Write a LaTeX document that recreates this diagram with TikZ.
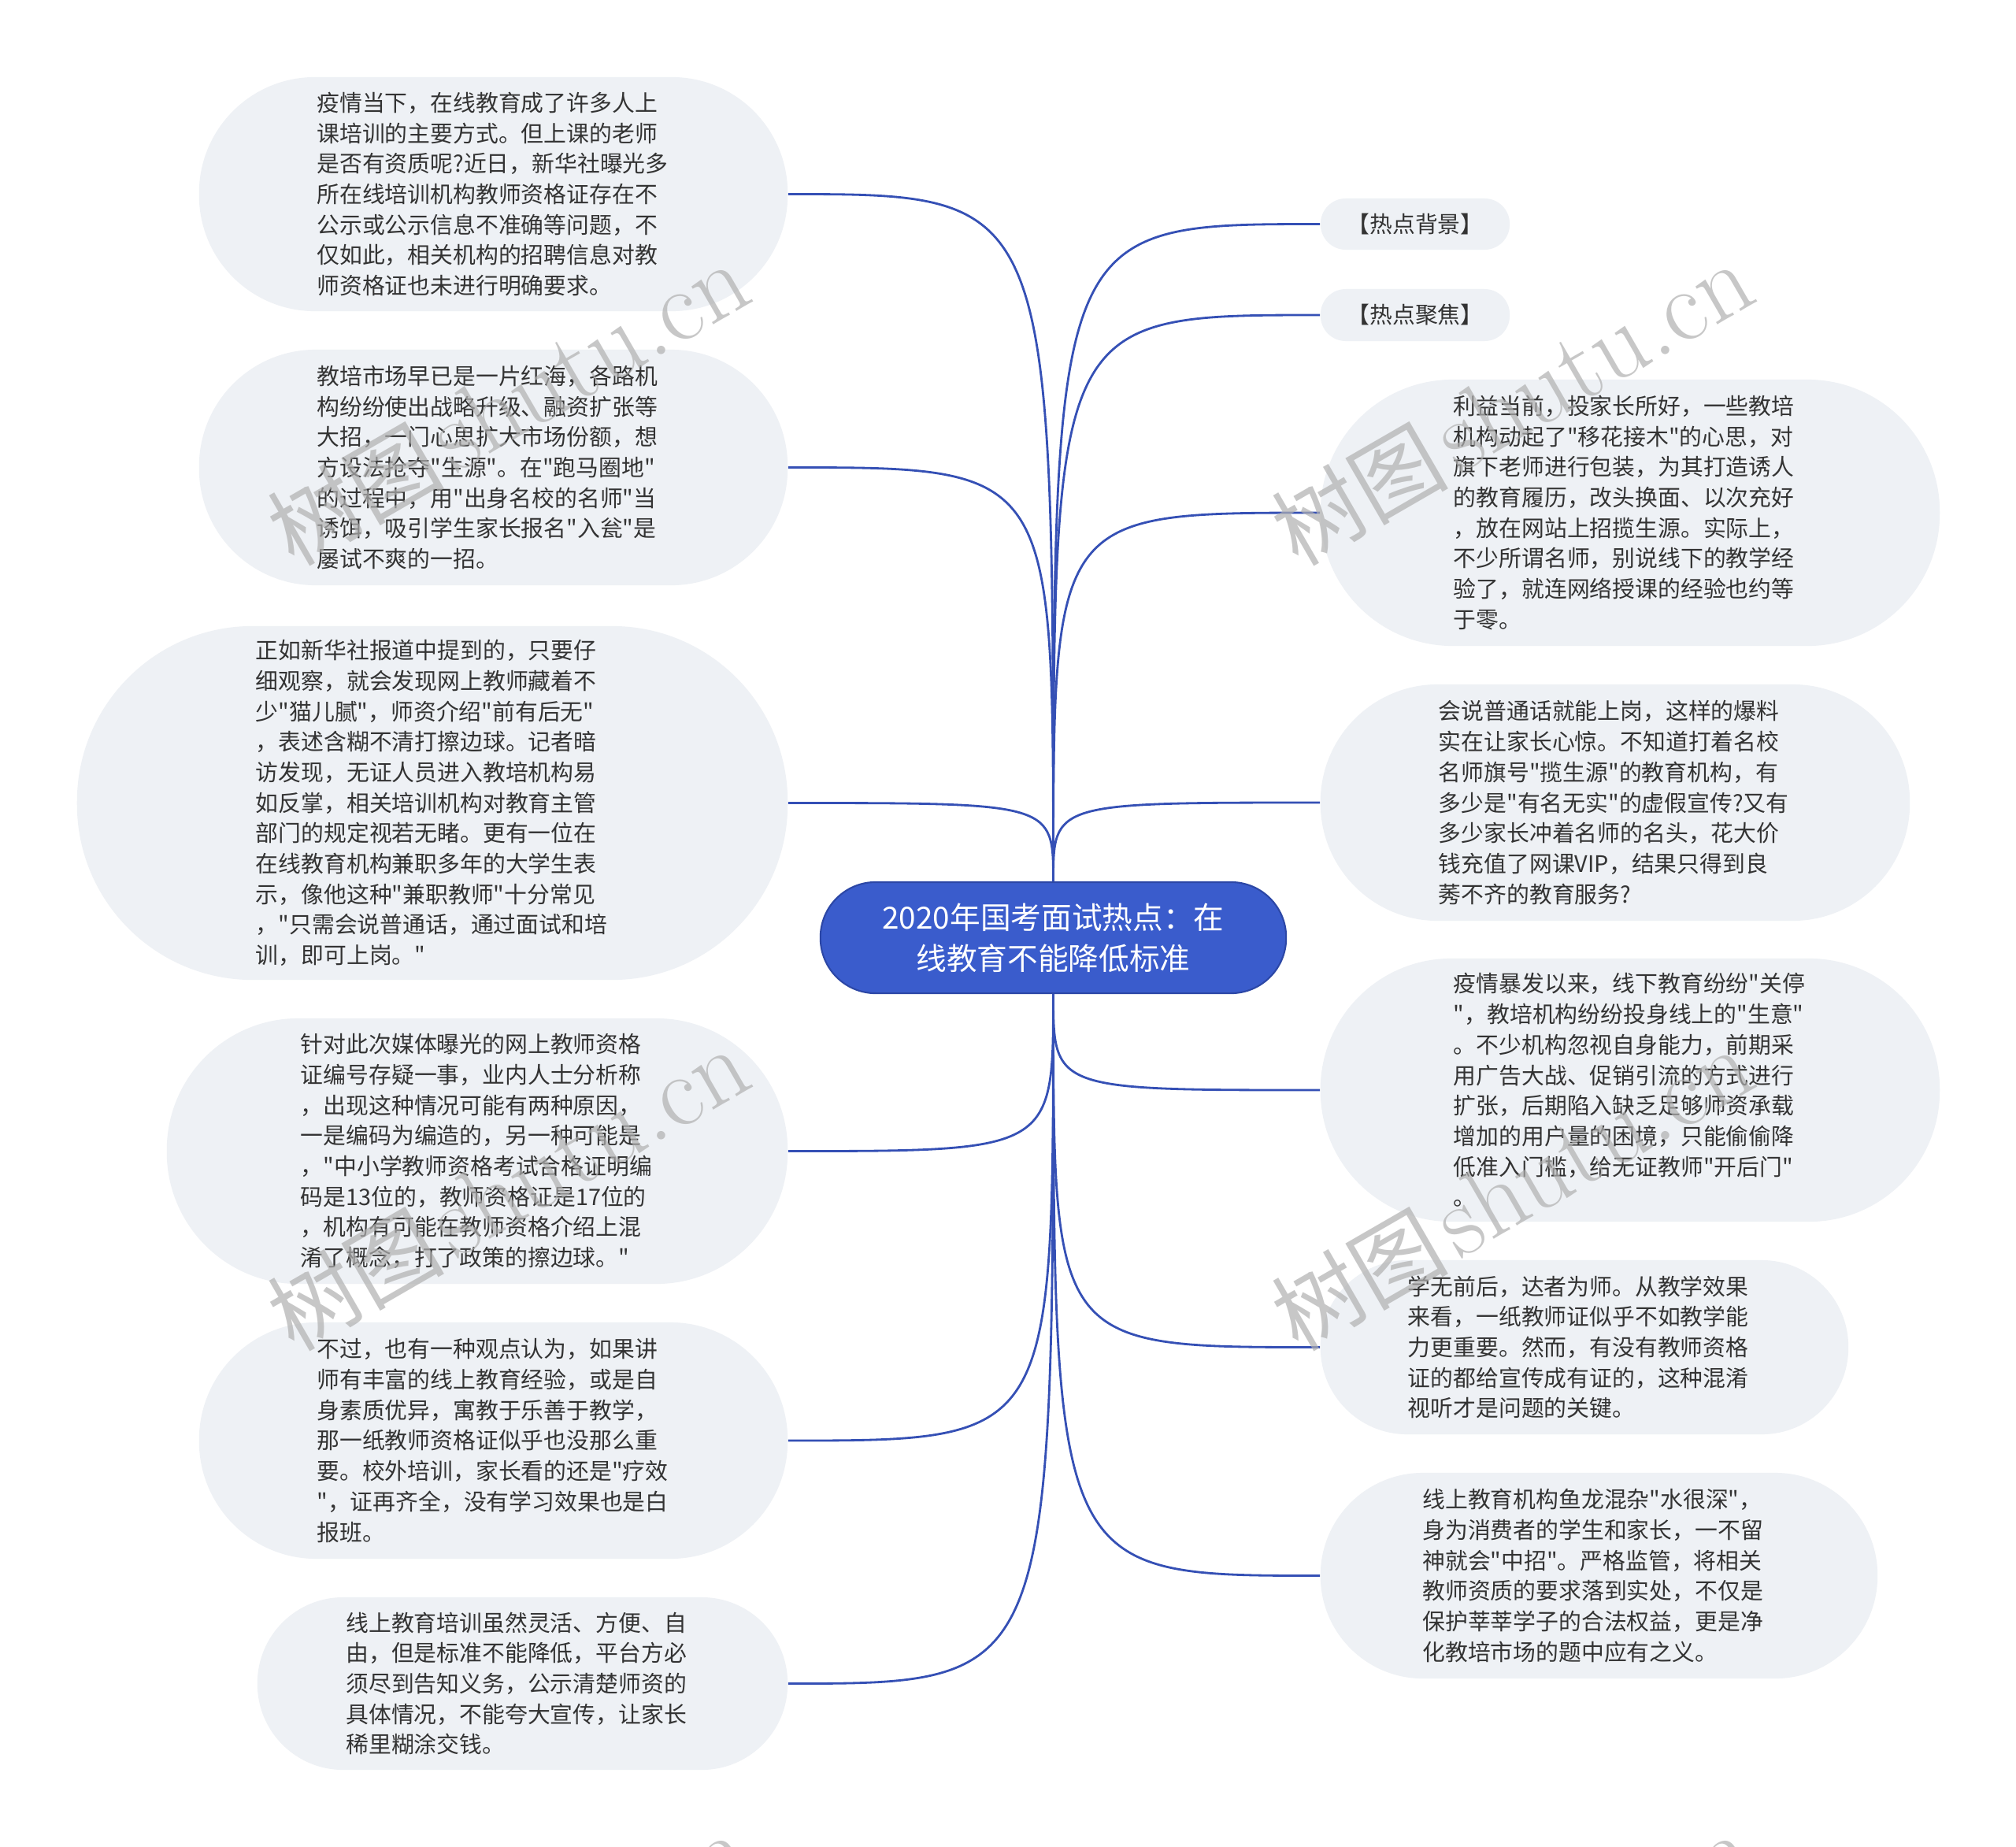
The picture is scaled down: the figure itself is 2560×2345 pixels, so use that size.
\documentclass[tikz,border=0pt]{standalone}
\usepackage{fontspec}
\newfontfamily\cjk{Noto Sans CJK SC}
\definecolor{boxfill}{HTML}{EEF1F5}
\definecolor{txt}{HTML}{333333}
\definecolor{linec}{HTML}{3550B5}
\definecolor{mainfill}{HTML}{3A5CCC}
\definecolor{mainborder}{HTML}{2C47A6}
\definecolor{wm}{HTML}{B0B0B0}
\begin{document}
\begin{tikzpicture}[x=0.01cm,y=-0.01cm,
  box/.style={draw=none, fill=boxfill, text=txt, font=\cjk\fontsize{8.2}{11}\selectfont, align=left, inner sep=0pt},
  para/.style={box, text width=4.48cm},
  mainbox/.style={draw=mainborder, line width=0.6pt, fill=mainfill, text=white, font=\cjk\fontsize{11}{14.8}\selectfont, align=center, inner sep=0pt},
  conn/.style={draw=linec, line width=0.8pt},
  wmark/.style={text=wm, text opacity=0.7, rotate=30, inner sep=0pt}]
\useasboundingbox (0,0) rectangle (2560,2345);
\clip (0,0) rectangle (2560,2345);
\fill[white] (0,0) rectangle (2560,2345);

% centre
\node[mainbox, minimum width=5.91cm, minimum height=1.41cm, rounded corners=0.70cm] (c) at (1337.5,1190.5)
 {2020年国考面试热点：在\\线教育不能降低标准};

% left nodes
\node[para, minimum width=7.47cm, minimum height=2.97cm, rounded corners=1.47cm] (l1) at (626.5,246.5)
 {疫情当下，在线教育成了许多人上\\课培训的主要方式。但上课的老师\\是否有资质呢?近日，新华社曝光多\\所在线培训机构教师资格证存在不\\公示或公示信息不准确等问题，不\\仅如此，相关机构的招聘信息对教\\师资格证也未进行明确要求。};
\node[para, minimum width=7.47cm, minimum height=2.99cm, rounded corners=1.48cm] (l2) at (626.5,593.5)
 {教培市场早已是一片红海，各路机\\构纷纷使出战略升级、融资扩张等\\大招，一门心思扩大市场份额，想\\方设法抢夺"生源"。在"跑马圈地"\\的过程中，用"出身名校的名师"当\\诱饵，吸引学生家长报名"入瓮"是\\屡试不爽的一招。};
\node[para, minimum width=9.02cm, minimum height=4.49cm, rounded corners=2.23cm] (l3) at (549,1019.5)
 {正如新华社报道中提到的，只要仔\\细观察，就会发现网上教师藏着不\\少"猫儿腻"，师资介绍"前有后无"\\，表述含糊不清打擦边球。记者暗\\访发现，无证人员进入教培机构易\\如反掌，相关培训机构对教育主管\\部门的规定视若无睹。更有一位在\\在线教育机构兼职多年的大学生表\\示，像他这种"兼职教师"十分常见\\，"只需会说普通话，通过面试和培\\训，即可上岗。"};
\node[para, minimum width=7.88cm, minimum height=3.37cm, rounded corners=1.67cm] (l4) at (606,1461.5)
 {针对此次媒体曝光的网上教师资格\\证编号存疑一事，业内人士分析称\\，出现这种情况可能有两种原因，\\一是编码为编造的，另一种可能是\\，"中小学教师资格考试合格证明编\\码是13位的，教师资格证是17位的\\，机构有可能在教师资格介绍上混\\淆了概念，打了政策的擦边球。"};
\node[para, minimum width=7.47cm, minimum height=3.00cm, rounded corners=1.49cm] (l5) at (626.5,1829)
 {不过，也有一种观点认为，如果讲\\师有丰富的线上教育经验，或是自\\身素质优异，寓教于乐善于教学，\\那一纸教师资格证似乎也没那么重\\要。校外培训，家长看的还是"疗效\\"，证再齐全，没有学习效果也是白\\报班。};
\node[para, minimum width=6.73cm, minimum height=2.19cm, rounded corners=1.09cm] (l6) at (663.5,2137.5)
 {线上教育培训虽然灵活、方便、自\\由，但是标准不能降低，平台方必\\须尽到告知义务，公示清楚师资的\\具体情况，不能夸大宣传，让家长\\稀里糊涂交钱。};

% right nodes
\node[box, minimum width=2.40cm, minimum height=0.65cm, rounded corners=0.32cm, align=center] (r1) at (1797,284.5) {【热点背景】};
\node[box, minimum width=2.40cm, minimum height=0.66cm, rounded corners=0.32cm, align=center] (r2) at (1797,400) {【热点聚焦】};
\node[para, minimum width=7.86cm, minimum height=3.38cm, rounded corners=1.68cm] (r3) at (2070,651)
 {利益当前，投家长所好，一些教培\\机构动起了"移花接木"的心思，对\\旗下老师进行包装，为其打造诱人\\的教育履历，改头换面、以次充好\\，放在网站上招揽生源。实际上，\\不少所谓名师，别说线下的教学经\\验了，就连网络授课的经验也约等\\于零。};
\node[para, minimum width=7.48cm, minimum height=3.00cm, rounded corners=1.49cm] (r4) at (2051,1019)
 {会说普通话就能上岗，这样的爆料\\实在让家长心惊。不知道打着名校\\名师旗号"揽生源"的教育机构，有\\多少是"有名无实"的虚假宣传?又有\\多少家长冲着名师的名头，花大价\\钱充值了网课VIP，结果只得到良\\莠不齐的教育服务?};
\node[para, minimum width=7.86cm, minimum height=3.34cm, rounded corners=1.66cm] (r5) at (2070,1384)
 {疫情暴发以来，线下教育纷纷"关停\\"，教培机构纷纷投身线上的"生意"\\。不少机构忽视自身能力，前期采\\用广告大战、促销引流的方式进行\\扩张，后期陷入缺乏足够师资承载\\增加的用户量的困境，只能偷偷降\\低准入门槛，给无证教师"开后门"\\。};
\node[para, minimum width=6.70cm, minimum height=2.21cm, rounded corners=1.10cm] (r6) at (2012,1710.5)
 {学无前后，达者为师。从教学效果\\来看，一纸教师证似乎不如教学能\\力更重要。然而，有没有教师资格\\证的都给宣传成有证的，这种混淆\\视听才是问题的关键。};
\node[para, minimum width=7.07cm, minimum height=2.61cm, rounded corners=1.30cm] (r7) at (2030.5,2000.5)
 {线上教育机构鱼龙混杂"水很深"，\\身为消费者的学生和家长，一不留\\神就会"中招"。严格监管，将相关\\教师资质的要求落到实处，不仅是\\保护莘莘学子的合法权益，更是净\\化教培市场的题中应有之义。};

% connectors
\foreach \n in {l1,l2,l3} {
  \draw[conn] (c.north) .. controls (c.north |- \n.east) .. (\n.east);
}
\foreach \n in {r1,r2,r3,r4} {
  \draw[conn] (c.north) .. controls (c.north |- \n.west) .. (\n.west);
}
\foreach \n in {l4,l5,l6} {
  \draw[conn] (c.south) .. controls (c.south |- \n.east) .. (\n.east);
}
\foreach \n in {r5,r6,r7} {
  \draw[conn] (c.south) .. controls (c.south |- \n.west) .. (\n.west);
}

% watermarks
\foreach \wx/\wy [count=\i] in {645/514, 1920/514, 645/1511, 1920/1511, 645/2508, 1920/2508} {
  \node[wmark] (wm\i) at (\wx,\wy) {{\cjk\fontsize{32}{36}\selectfont 树图} {\fontsize{37}{40}\selectfont shutu.cn}};
}
\end{tikzpicture}
\end{document}
